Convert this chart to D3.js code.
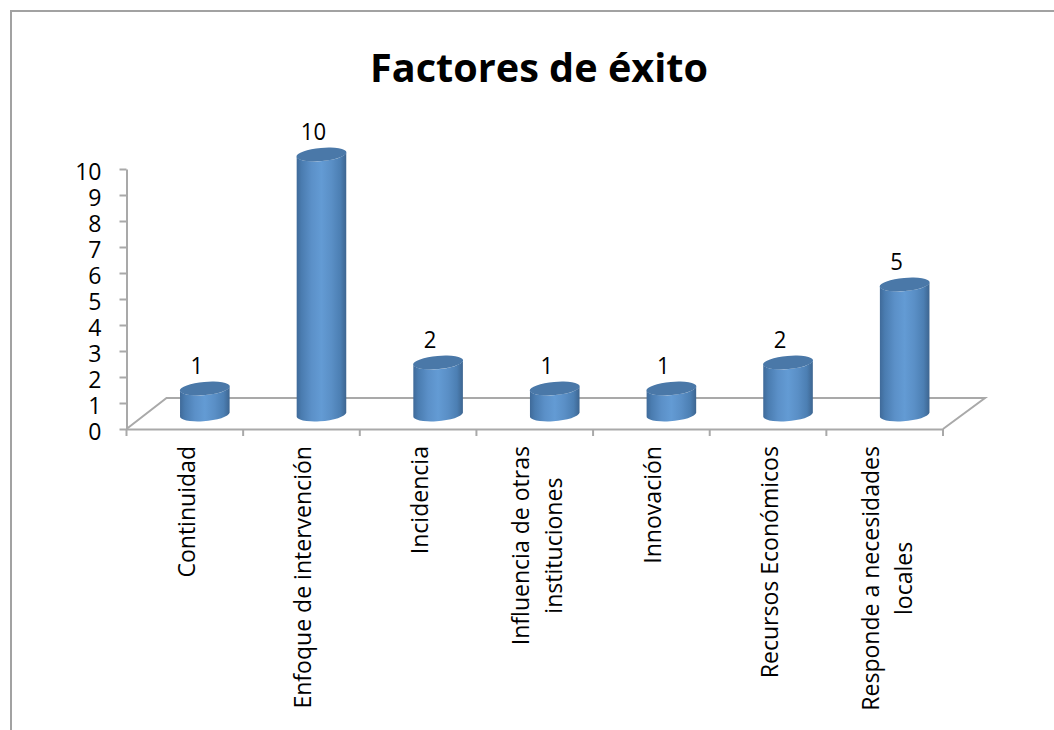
<!DOCTYPE html>
<html lang="es"><head><meta charset="utf-8">
<style>html,body{margin:0;padding:0;background:#fff}svg{display:block}text{font-family:"Open Sans",sans-serif;fill:#000}</style>
<script src="https://cdnjs.cloudflare.com/ajax/libs/d3/7.8.5/d3.min.js"></script>
</head><body><div id="c"></div>
<script>
const title = "Factores de éxito";
const categories = ["Continuidad","Enfoque de intervención","Incidencia","Influencia de otras instituciones","Innovación","Recursos Económicos","Responde a necesidades locales"];
const categoryLines = [["Continuidad"],["Enfoque de intervención"],["Incidencia"],["Influencia de otras","instituciones"],["Innovación"],["Recursos Económicos"],["Responde a necesidades","locales"]];
const values = [1,10,2,1,1,2,5];
const yTicks = [0,1,2,3,4,5,6,7,8,9,10];

const W=1054,H=730, axisColor="#a9a9a9", fontPx=24, condense=0.96;
const svg=d3.select("#c").append("svg").attr("width",W).attr("height",H);
const defs=svg.append("defs");
const grad=defs.append("linearGradient").attr("id","cyl").attr("x1",0).attr("x2",1).attr("y1",0).attr("y2",0);
[[0,"#3f6a99"],[.1,"#4a7cb0"],[.3,"#5b90c8"],[.5,"#639bd4"],[.7,"#5a8fc6"],[.88,"#4c7fb3"],[1,"#3d6590"]]
  .forEach(([o,c])=>grad.append("stop").attr("offset",o).attr("stop-color",c));

// frame
svg.append("path").attr("d",`M11,${H}V11H${W}`).attr("fill","none").attr("stroke","#a2a2a2").attr("stroke-width",2);

const y=d3.scaleLinear().domain([0,10]).range([429,169]);
const x=d3.scaleBand().domain(categories).range([126.5,943]);
const depthX=40, depthY=31;

// floor
const x0=x.range()[0], x1=x.range()[1], y0=y(0);
svg.append("path").attr("d",`M${x0},${y0}L${x0+depthX},${y0-depthY}H${x1+depthX+2}L${x1},${y0}`)
  .attr("fill","none").attr("stroke",axisColor).attr("stroke-width",2);

// y axis
const gy=svg.append("g").attr("transform",`translate(${x0},0)`)
  .call(d3.axisLeft(y).tickValues(yTicks).tickSize(7).tickPadding(18).tickSizeOuter(0));
gy.selectAll("path,line").attr("stroke",axisColor).attr("stroke-width",2);
gy.selectAll("text").attr("font-size",fontPx).attr("dy","0.42em").style("font-family",'"Open Sans",sans-serif').attr("fill","#000")
  .attr("transform",function(){const a=+d3.select(this).attr("x");return `translate(${a*(1-condense)},0) scale(${condense},1)`;});

// x axis
const gx=svg.append("g").attr("transform",`translate(0,${y0})`)
  .call(d3.axisBottom(x).tickSize(0).tickFormat(""));
gx.select("path").attr("stroke",axisColor).attr("stroke-width",2);
gx.selectAll(".tick").remove();
svg.append("g").selectAll("line").data(categories.concat("_end")).join("line")
  .attr("x1",(d,i)=>x0+i*x.step()).attr("x2",(d,i)=>x0+i*x.step())
  .attr("y1",y0).attr("y2",y0+7).attr("stroke",axisColor).attr("stroke-width",2);

// cylinders
const barW=x.bandwidth()*0.425, rx=barW/2, ry=6.6, rot=-5;
const tilt=Math.tan(rot*Math.PI/180)*rx*0.75;
const gb=svg.append("g");
categories.forEach((c,i)=>{
  const cx=x(c)+x.bandwidth()/2+depthX/2;
  const base=y(0)-depthY/2+1, top=y(values[i])-depthY/2+1;
  const L=cx-rx,R=cx+rx;
  gb.append("path").attr("fill","url(#cyl)")
    .attr("d",`M${L},${top-tilt}L${L},${base-tilt}A${rx},${ry} ${rot} 0 0 ${R},${base+tilt}L${R},${top+tilt}A${rx},${ry} ${rot} 0 1 ${L},${top-tilt}Z`);
  gb.append("ellipse").attr("cx",cx).attr("cy",top).attr("rx",rx+0.3).attr("ry",ry)
    .attr("transform",`rotate(${rot} ${cx} ${top})`).attr("fill","#4a78a8");
  svg.append("text").attr("x",cx-8).attr("y",top-14).attr("text-anchor","middle")
    .attr("font-size",fontPx-1).attr("transform",`translate(${(cx-8)*(1-condense)},0) scale(${condense},1)`).text(values[i]);
});

// category labels
const lineGap=32.7, topEnd=446;
categoryLines.forEach((lines,i)=>{
  const c=categories[i], mid=x(c)+x.bandwidth()/2;
  const firstBase=mid+9.7-(lines.length>1?15.5:0);
  const g=svg.append("g");
  const texts=lines.map(t=>g.append("text").attr("font-size",fontPx).attr("text-anchor","middle").text(t));
  const maxLen=d3.max(texts,t=>t.node().getComputedTextLength())*condense;
  texts.forEach((t,j)=>{
    const bx=firstBase+j*lineGap, by=topEnd+maxLen/2;
    t.attr("transform",`translate(${bx},${by}) rotate(-90) scale(${condense},1)`);
  });
});

// title
svg.append("text").attr("x",539).attr("y",82).attr("text-anchor","middle")
  .attr("font-size",39).attr("font-weight",700).attr("textLength",338).attr("lengthAdjust","spacingAndGlyphs").text(title);
</script></body></html>
